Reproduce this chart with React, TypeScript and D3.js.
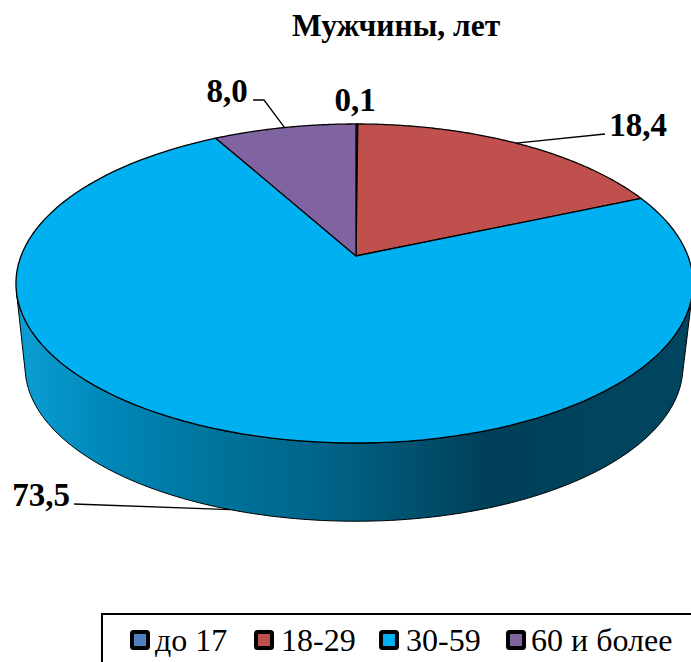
import React from "react";
import * as d3 from "d3";

const categories = ["до 17", "18-29", "30-59", "60 и более"];
const values = [0.1, 18.4, 73.5, 8.0];
const valueLabels = ["0,1", "18,4", "73,5", "8,0"];
const colors = ["#4f81bd", "#c0504d", "#00b0f0", "#8064a2"];

const width = 691;
const height = 662;

// perspective of the disc: v runs from back (-1) to front (1)
const tilt = 0.1724;
const topDisc = { cx: 356, cy: 256, rxLeft: 335, rxRight: 332, ry: 154.8 };
const bottomDisc = { cx: 356, cy: 340, rxLeft: 326, rxRight: 322, ry: 150 };

type Disc = typeof topDisc;

const project = (disc: Disc, a: number): [number, number] => {
  const u = Math.sin(a);
  const v = -Math.cos(a);
  const w = 1 - tilt * v;
  const rx = u < 0 ? disc.rxLeft : disc.rxRight;
  return [disc.cx + (rx * u) / w, disc.cy + (disc.ry * v) / w];
};

const rim = (disc: Disc, a0: number, a1: number): [number, number][] =>
  d3.range(0, 121).map((i) => project(disc, a0 + ((a1 - a0) * i) / 120));

const line = d3.line();
const color = d3.scaleOrdinal<string, string>().domain(categories).range(colors);
const arcs = d3.pie<number>().sort(null)(values);
const wallStart = (104 * Math.PI) / 180;
const wallEnd = (256 * Math.PI) / 180;

const wallPath =
  line([...rim(topDisc, wallStart, wallEnd), ...rim(bottomDisc, wallEnd, wallStart)]) + "Z";

const wallStops = [
  [0.02, "#0a9cd0"],
  [0.125, "#0089bb"],
  [0.27, "#00769f"],
  [0.495, "#005f82"],
  [0.7, "#003f58"],
  [0.86, "#00445d"],
  [1, "#00455f"],
];

// label text position and where the leader line leaves the slice
const labelAt = [
  { x: 355, y: 111, disc: null, elbow: null },
  { x: 638, y: 136, disc: topDisc, elbow: [605, 134] },
  { x: 41, y: 506, disc: bottomDisc, elbow: [74, 504] },
  { x: 227, y: 102, disc: topDisc, elbow: [264, 100], end: [253, 100] },
];

const legendX = [132, 256, 381, 508];
const legendTextX = [155, 281, 406, 531];

export default function App() {
  return (
    <svg
      width={width}
      height={height}
      style={{ position: "absolute", left: 0, top: 0, fontFamily: "'Liberation Serif', serif" }}
    >
      <defs>
        <linearGradient id="wall" gradientUnits="userSpaceOnUse" x1={16} x2={691} y1={0} y2={0}>
          {wallStops.map(([o, c]) => (
            <stop key={o} offset={o as number} stopColor={c as string} />
          ))}
        </linearGradient>
      </defs>

      <text x={396} y={35.5} textAnchor="middle" fontSize={31.5} fontWeight="bold">
        Мужчины, лет
      </text>

      <path d={wallPath} fill="url(#wall)" stroke="#000" strokeWidth={1} />

      {arcs.map((d, i) => (
        <path
          key={categories[i]}
          d={line([[topDisc.cx, topDisc.cy], ...rim(topDisc, d.startAngle, d.endAngle)]) + "Z"}
          fill={color(categories[i])}
          stroke="#000"
          strokeWidth={1.3}
          strokeLinejoin="round"
        />
      ))}

      {arcs.map((d, i) => {
        const pos = labelAt[i];
        const mid = (d.startAngle + d.endAngle) / 2;
        return (
          <g key={valueLabels[i]}>
            {pos.disc && (
              <path
                d={line([
                  project(pos.disc, mid),
                  pos.elbow as [number, number],
                  ...(pos.end ? [pos.end as [number, number]] : []),
                ]) as string}
                fill="none"
                stroke="#000"
                strokeWidth={1.3}
              />
            )}
            <text x={pos.x} y={pos.y} textAnchor="middle" fontSize={33} fontWeight="bold">
              {valueLabels[i]}
            </text>
          </g>
        );
      })}

      <rect x={102} y={614} width={590} height={60} fill="#fff" stroke="#000" strokeWidth={2} />
      {categories.map((c, i) => (
        <g key={c}>
          <rect
            x={legendX[i]}
            y={632}
            width={16}
            height={16}
            rx={1.5}
            fill={color(c)}
            stroke="#000"
            strokeWidth={4}
          />
          <text x={legendTextX[i]} y={651} fontSize={32}>
            {c}
          </text>
        </g>
      ))}
    </svg>
  );
}
